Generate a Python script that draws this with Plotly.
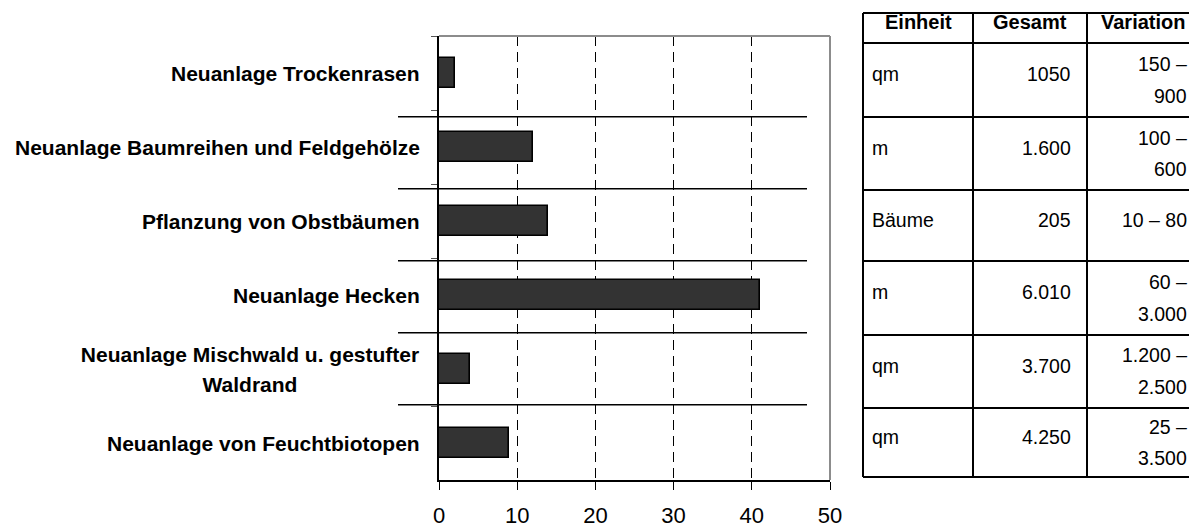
import plotly.graph_objects as go

# ---------------- data ----------------
categories = [
    "Neuanlage Trockenrasen",
    "Neuanlage Baumreihen und Feldgehölze",
    "Pflanzung von Obstbäumen",
    "Neuanlage Hecken",
    "Neuanlage Mischwald u. gestufter<br>Waldrand",
    "Neuanlage von Feuchtbiotopen",
]
values = [2, 12, 14, 41, 4, 9]
x_ticks = [0, 10, 20, 30, 40, 50]

table_header = ["Einheit", "Gesamt", "Variation"]
einheit = ["qm", "m", "Bäume", "m", "qm", "qm"]
gesamt = ["1050", "1.600", "205", "6.010", "3.700", "4.250"]
variation = [["150 –", "900"], ["100 –", "600"], ["10 – 80"],
             ["60 –", "3.000"], ["1.200 –", "2.500"], ["25 –", "3.500"]]

# ---------------- layout constants (screen pixels) ----------------
W, H = 1189, 529
L, R, T, B = 439, 830, 36, 480  # plot area on screen
FONT = "Liberation Sans, Arial, sans-serif"


def xp(px):
    return (px - L) / (R - L)


def yp(py):
    return (B - py) / (B - T)


fig = go.Figure()
fig.add_trace(go.Bar(
    x=values, y=categories, orientation="h", width=0.405,
    marker=dict(color="#333333", line=dict(color="black", width=1.6)),
    hoverinfo="x+y", showlegend=False,
))

shapes = []
# separator lines across labels / plot
sep_y = [116.7, 188.7, 260.7, 332.7, 404.7]
for py in sep_y:
    shapes.append(dict(type="line", xref="paper", yref="paper",
                       x0=xp(398), x1=xp(807), y0=yp(py), y1=yp(py),
                       line=dict(color="black", width=1.5), layer="above"))
# grey frame top/right
shapes.append(dict(type="line", xref="paper", yref="paper", x0=0, x1=1, y0=1, y1=1,
                   line=dict(color="#8c8c8c", width=2), layer="above"))
shapes.append(dict(type="line", xref="paper", yref="paper", x0=1, x1=1, y0=0, y1=1,
                   line=dict(color="#8c8c8c", width=2), layer="above"))

# table grid
col_x = [863, 973, 1087, 1199]
row_y = [13, 43, 117, 190, 261, 335, 408, 477]
for cx in col_x:
    shapes.append(dict(type="line", xref="paper", yref="paper",
                       x0=xp(cx), x1=xp(cx), y0=yp(row_y[0]), y1=yp(row_y[-1]),
                       line=dict(color="black", width=2)))
for ry in row_y:
    shapes.append(dict(type="line", xref="paper", yref="paper",
                       x0=xp(col_x[0]), x1=xp(col_x[-1]), y0=yp(ry), y1=yp(ry),
                       line=dict(color="black", width=2)))

annotations = []
# category labels
lfont = dict(family=FONT, size=21, color="black")
for cat in categories:
    parts = cat.split("<br>")
    if len(parts) == 1:
        annotations.append(dict(
            xref="paper", yref="y", x=xp(422), y=cat, text="<b>" + cat + "</b>",
            xanchor="right", yanchor="middle", showarrow=False, font=lfont))
    else:
        n = len(parts)
        for k, p in enumerate(parts):
            annotations.append(dict(
                xref="paper", yref="y", x=xp(422), y=cat, text="<b>" + p + "</b>",
                xanchor="right", yanchor="middle", align="center", width=340,
                yshift=-(k - (n - 1) / 2) * 30, showarrow=False, font=lfont))

# table header
for i, h in enumerate(table_header):
    cx = (col_x[i] + col_x[i + 1]) / 2
    cy = (row_y[0] + row_y[1]) / 2 - 6
    annotations.append(dict(
        xref="paper", yref="paper", x=xp(cx), y=yp(cy), text="<b>" + h + "</b>",
        xanchor="center", yanchor="middle", showarrow=False,
        font=dict(family=FONT, size=20, color="black")))

tfont = dict(family=FONT, size=19.5, color="black")
for r in range(len(einheit)):
    top, bot = row_y[r + 1], row_y[r + 2]
    cy = (top + bot) / 2
    annotations.append(dict(xref="paper", yref="paper", x=xp(col_x[0] + 7), y=yp(cy - 6),
                            text=einheit[r], xanchor="left", yanchor="middle",
                            showarrow=False, font=tfont))
    annotations.append(dict(xref="paper", yref="paper", x=xp(col_x[2] - 14), y=yp(cy - 6),
                            text=gesamt[r], xanchor="right", yanchor="middle",
                            showarrow=False, font=tfont))
    lines = variation[r]
    offs = [-6] if len(lines) == 1 else [-16, 15.5]
    for line, o in zip(lines, offs):
        annotations.append(dict(xref="paper", yref="paper", x=xp(1189), y=yp(cy + o),
                                text=line, xanchor="right", yanchor="middle",
                                showarrow=False, font=tfont))

fig.update_layout(
    width=W, height=H,
    margin=dict(l=L, r=W - R, t=T, b=H - B, pad=0, autoexpand=False),
    paper_bgcolor="white", plot_bgcolor="white",
    font=dict(family=FONT, color="black"),
    bargap=0,
    xaxis=dict(range=[0, 50], tickvals=x_ticks, showgrid=True, griddash="10px,6px",
               gridcolor="black", gridwidth=1, zeroline=False, automargin=False,
               showline=True, linecolor="black", linewidth=1.5,
               ticks="outside", ticklen=8, tickcolor="black", tickwidth=1,
               ticklabelstandoff=7,
               tickfont=dict(family=FONT, size=22, color="black")),
    yaxis=dict(categoryorder="array", categoryarray=categories, range=[5.5, -0.5],
               showgrid=False, zeroline=False, showticklabels=False, automargin=False,
               showline=True, linecolor="black", linewidth=1.5,
               ticks="outside", tickson="boundaries", ticklen=6, tickcolor="#555555"),
    shapes=shapes, annotations=annotations,
)

fig.write_html(
    "out.html",
    config={"displayModeBar": False},
    post_script=("document.body.style.margin='0';"
                 "document.body.style.overflow='hidden';"
                 "document.documentElement.style.overflow='hidden';"),
)
